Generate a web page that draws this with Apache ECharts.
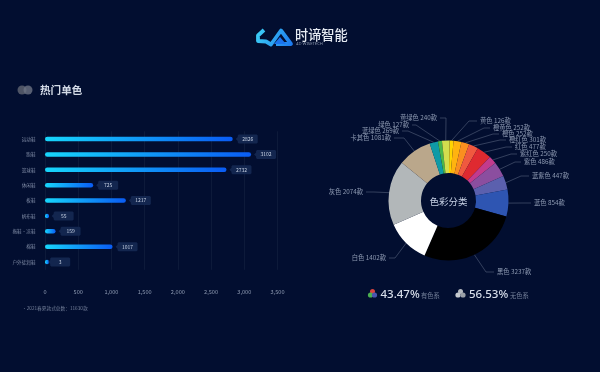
<!DOCTYPE html>
<html><head><meta charset="utf-8">
<style>html,body{margin:0;padding:0;background:#020e30}#c{width:600px;height:372px}</style>
<script src="https://cdn.jsdelivr.net/npm/echarts@6/dist/echarts.min.js"></script>
</head><body><div id="c"></div>
<script>
const shoeCategories = ['运动鞋','跑鞋','篮球鞋','休闲鞋','板鞋','帆布鞋','拖鞋·凉鞋','棉鞋','户外徒润鞋'];
const shoeValues = [2826,3102,2732,725,1217,55,159,1017,3];
const colorNames = ['黄色','橙黄色','橙色','橙红色','红色','紫红色','紫色','蓝紫色','蓝色','黑色','白色','灰色','卡其色','蓝绿色','绿色','黄绿色'];
const colorValues = [126,252,252,301,477,250,486,447,854,3237,1402,2074,1081,269,127,240];
const sliceColors = ['#ffd400','#ffb30f','#fa8f1f','#f0593f','#df2a30','#c23b8e','#8b4e9f','#5b60ae','#2e55b2','#000000','#ffffff','#b2b7b9','#baa78b','#0f9aa6','#4bb749','#d2de4e'];
// label anchor layout: [edge x, centre y, elbow length]
const labelAnchors = [[480,121,8],[493,128,6],[502,134,6],[509,140,6],[515,147,6],[520,154,6],[524,162,6],[532,176,8],[534,203,10],[497,272,8],[386,258,6],[363,192,8],[391,138,10],[399,131,6],[409,125,4],[437,118,6]];
const tickFmt = v => v.toLocaleString('en-US');
const chart = echarts.init(document.getElementById('c'));
const FONT = '"Noto Sans CJK SC","Noto Sans",sans-serif';
chart.setOption({
  animation:false,
  backgroundColor:'#020e30',
  grid:{left:45,right:322.5,top:131.3,bottom:102.2,containLabel:false},
  xAxis:{type:'value',min:0,max:3500,interval:500,
    axisLine:{show:false},axisTick:{show:false},
    splitLine:{lineStyle:{color:'#13203f',width:0.7}},
    axisLabel:{color:'#8e9ab2',fontSize:5.6,fontFamily:FONT,margin:19,formatter:tickFmt}},
  yAxis:{type:'category',inverse:true,data:shoeCategories,
    axisLine:{show:false},axisTick:{show:false},
    axisLabel:{color:'#7f8ba5',fontSize:4.6,fontFamily:FONT,margin:9.5}},
  series:[
    {type:'bar',data:shoeValues,barWidth:4.5,z:3,barMinHeight:4,
      itemStyle:{borderRadius:2.25,color:new echarts.graphic.LinearGradient(0,0,1,0,[{offset:0,color:'#17d6fc'},{offset:1,color:'#0a5cf4'}])}},
    {type:'custom',z:4,data:shoeValues.map((v,i)=>[v,i]),encode:{x:0,y:1},
      renderItem(p,api){
        const c=api.coord([api.value(0),api.value(1)]);
        const x=c[0]+3,y=c[1],h=4.5;
        return {type:'group',children:[
          {type:'polygon',shape:{points:[[x,y],[x+2,y-2],[x+2,y-h+1],[x+3,y-h],[x+21,y-h],[x+22,y-h+1],[x+22,y+h-1],[x+21,y+h],[x+3,y+h],[x+2,y+h-1],[x+2,y+2]]},style:{fill:'#13264f'}},
          {type:'text',style:{text:String(api.value(0)),x:x+12,y:y,align:'center',verticalAlign:'middle',fill:'#c8d2e4',font:'5px '+FONT}}
        ]};
      }},
    {type:'pie',center:[448.5,200.5],radius:[27.5,60],startAngle:89,clockwise:true,
      data:colorNames.map((n,i)=>({name:n,value:colorValues[i],itemStyle:{color:sliceColors[i]}})),
      label:{show:true,formatter:'{b} {c}款',color:'#8f9bb3',fontSize:6.3,fontFamily:FONT},
      labelLine:{show:true,lineStyle:{color:'#56627c',width:0.6},length:8,length2:6},
      labelLayout(params){
        const a=labelAnchors[params.dataIndex];
        const p0=params.labelLinePoints?params.labelLinePoints[0]:[a[0],a[1]];
        const right=params.dataIndex<10;
        const end=right?a[0]-3:a[0]+3;
        const el=right?end-a[2]:end+a[2];
        return {x:a[0],y:a[1],align:right?'left':'right',verticalAlign:'middle',
          labelLinePoints:[p0,[el,a[1]],[end,a[1]]]};
      }}
  ],
  graphic:{elements:[
    // logo
    {type:'polyline',shape:{points:[[264,30],[258,35.5],[258,41],[266,41.5],[271,44.5],[281,30.5],[291,44],[276,44]]},
      style:{fill:'none',lineWidth:3.8,lineJoin:'round',stroke:new echarts.graphic.LinearGradient(0,0,1,1,[{offset:0,color:'#3fd6f7'},{offset:1,color:'#1a73ee'}])}},
    {type:'polygon',shape:{points:[[280,37],[286,44],[274,44]]},style:{fill:'#1a73ee'}},
    {type:'text',style:{text:'时谛智能',x:295,y:34.5,verticalAlign:'middle',fill:'#e6ebf3',font:'500 13.2px '+FONT}},
    {type:'text',style:{text:'4D WISETECH',x:296,y:44.3,verticalAlign:'middle',fill:'#8b97ad',font:'4.2px "Noto Sans",sans-serif'}},
    // heading
    {type:'circle',shape:{cx:22,cy:90,r:4.5},style:{fill:'#565c6c',opacity:0.9}},
    {type:'circle',shape:{cx:28,cy:90,r:4.5},style:{fill:'#6d7383',opacity:0.8}},
    {type:'text',style:{text:'热门单色',x:40,y:90,verticalAlign:'middle',fill:'#d3dae6',font:'700 10.6px '+FONT}},
    {type:'text',style:{text:'•2021春夏款式总数：11630款',x:22,y:308,verticalAlign:'middle',fill:'#75819b',font:'4.7px '+FONT}},
    // donut centre
    {type:'text',style:{text:'色彩分类',x:448.5,y:201,align:'center',verticalAlign:'middle',fill:'#c8d2e6',font:'9.5px '+FONT}},
    // stats
    {type:'circle',shape:{cx:372.5,cy:291.5,r:2.5},style:{fill:'#d8453f'}},
    {type:'circle',shape:{cx:370.5,cy:295,r:2.6},style:{fill:'#4caf50'}},
    {type:'circle',shape:{cx:374.5,cy:295,r:2.6},style:{fill:'#4a55b0'}},
    {type:'text',style:{text:'43.47%',x:380.5,y:294.5,verticalAlign:'middle',fill:'#d7deea',font:'500 11.5px "Noto Sans",sans-serif'}},
    {type:'text',style:{text:'有色系',x:421,y:296,verticalAlign:'middle',fill:'#77839c',font:'6.3px '+FONT}},
    {type:'circle',shape:{cx:460.5,cy:291.5,r:2.5},style:{fill:'#b4b9bf'}},
    {type:'circle',shape:{cx:458,cy:295,r:2.6},style:{fill:'#c5c9ce'}},
    {type:'circle',shape:{cx:463,cy:295,r:2.6},style:{fill:'#9aa0a8'}},
    {type:'text',style:{text:'56.53%',x:469,y:294.5,verticalAlign:'middle',fill:'#d7deea',font:'500 11.5px "Noto Sans",sans-serif'}},
    {type:'text',style:{text:'无色系',x:510,y:296,verticalAlign:'middle',fill:'#77839c',font:'6.3px '+FONT}}
  ]}
});
</script></body></html>
